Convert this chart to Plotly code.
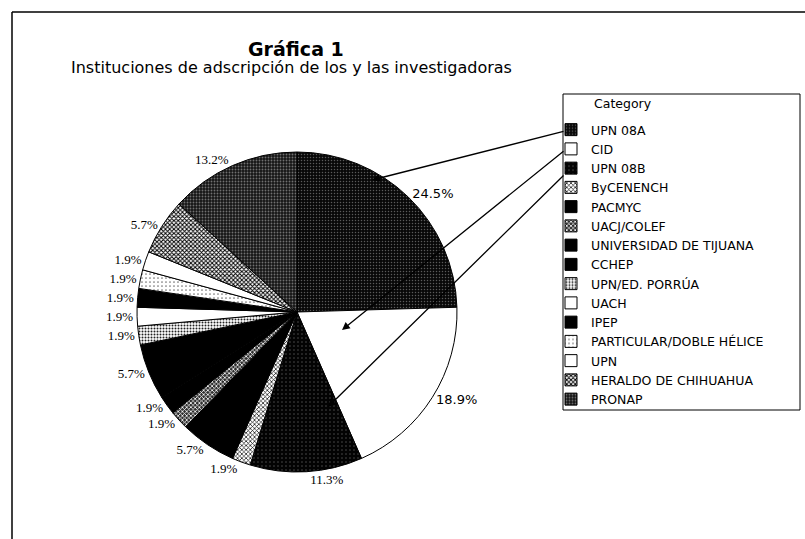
import plotly.graph_objects as go

W, H = 805, 539

# ---- data ----
categories = ["UPN 08A", "CID", "UPN 08B", "ByCENENCH", "PACMYC", "UACJ/COLEF",
              "UNIVERSIDAD DE TIJUANA", "CCHEP", "UPN/ED. PORRÚA", "UACH", "IPEP",
              "PARTICULAR/DOBLE HÉLICE", "UPN", "HERALDO DE CHIHUAHUA", "PRONAP"]
counts = [13, 10, 6, 1, 3, 1, 1, 3, 1, 1, 1, 1, 1, 3, 7]

title_text = "Gráfica 1"
subtitle_text = "Instituciones de adscripción de los y las investigadoras"
legend_title = "Category"

# ---- styles (grayscale with dotted patterns) ----
bg = ["#080808", "#ffffff", "#030303", "#ffffff", "#000000", "#2e2e2e",
      "#000000", "#000000", "#ffffff", "#ffffff", "#000000",
      "#ffffff", "#ffffff", "#ffffff", "#151515"]
fg = ["#5a5a5a", "#ffffff", "#505050", "#000000", "#000000", "#ffffff",
      "#000000", "#000000", "#222222", "#ffffff", "#000000",
      "#777777", "#ffffff", "#000000", "#707070"]
shapes = [".", "", ".", "x", "", "x", "", "", ".", "", "", ".", "", "x", "."]
psize = [3, 8, 4, 3, 8, 3, 8, 8, 3, 8, 8, 4, 8, 3, 3]
solid = [0.2, 0.3, 0.12, 0.4, 0.3, 0.45, 0.3, 0.3, 0.35, 0.3, 0.3, 0.15, 0.3, 0.55, 0.3]
fonts = ["DejaVu Sans", "DejaVu Sans"] + ["Liberation Serif"] * 13


def px(x):
    return x / W


def py(y):
    return 1 - y / H


fig = go.Figure()
fig.add_trace(go.Pie(
    labels=categories,
    values=counts,
    sort=False,
    direction="clockwise",
    rotation=0,
    textposition="outside",
    texttemplate="%{percent:.1%}",
    textfont=dict(family=fonts, size=13, color="#000000"),
    marker=dict(
        colors=bg,
        line=dict(color="#000000", width=1),
        pattern=dict(shape=shapes, bgcolor=bg, fgcolor=fg, size=psize,
                     solidity=solid, fillmode="replace"),
    ),
    domain=dict(x=[px(137), px(457)], y=[py(472), py(152)]),
    showlegend=True,
    hoverinfo="label+percent",
))

annotations = [
    dict(text="<b>" + title_text + "</b>", x=px(296), y=py(49), xref="paper", yref="paper",
         showarrow=False, font=dict(family="DejaVu Sans", size=19, color="#000"),
         xanchor="center", yanchor="middle"),
    dict(text=subtitle_text, x=px(291), y=py(68), xref="paper", yref="paper",
         showarrow=False, font=dict(family="DejaVu Sans", size=16, color="#000"),
         xanchor="center", yanchor="middle"),
    dict(text=legend_title, x=px(592), y=py(103), xref="paper", yref="paper",
         showarrow=False, font=dict(family="DejaVu Sans", size=12.5, color="#000"),
         xanchor="left", yanchor="middle"),
]

# leader arrows from legend entries to slices (head point, tail point in px)
arrows = [((372, 180), (565, 131)),
          ((342, 330), (565, 150)),
          ((328, 407), (565, 174))]
for (hx, hy), (tx, ty) in arrows:
    annotations.append(dict(
        x=px(hx), y=py(hy), xref="paper", yref="paper",
        ax=tx - hx, ay=ty - hy, axref="pixel", ayref="pixel",
        showarrow=True, arrowhead=2, arrowsize=1.2, arrowwidth=1.3,
        arrowcolor="#000", text=""))

fig.update_layout(
    width=W, height=H,
    margin=dict(l=0, r=0, t=0, b=0),
    paper_bgcolor="#ffffff",
    plot_bgcolor="#ffffff",
    annotations=annotations,
    legend=dict(
        x=px(551), y=py(115), xanchor="left", yanchor="top",
        borderwidth=0, bgcolor="rgba(0,0,0,0)",
        font=dict(family="DejaVu Sans", size=12.5, color="#000"),
        itemwidth=30, tracegroupgap=0,
    ),
    shapes=[
        # page frame
        dict(type="line", xref="paper", yref="paper", x0=px(12), x1=1, y0=py(12), y1=py(12),
             line=dict(color="#000", width=1.5)),
        dict(type="line", xref="paper", yref="paper", x0=px(12), x1=px(12), y0=py(12), y1=0,
             line=dict(color="#000", width=1.5)),
        # legend box
        dict(type="rect", xref="paper", yref="paper", x0=px(563), x1=px(800),
             y0=py(410), y1=py(94), line=dict(color="#000", width=1), layer="below"),
    ],
)

fig.write_html("out.html", config={"displayModeBar": False},
               post_script="document.body.style.margin='0px';")
